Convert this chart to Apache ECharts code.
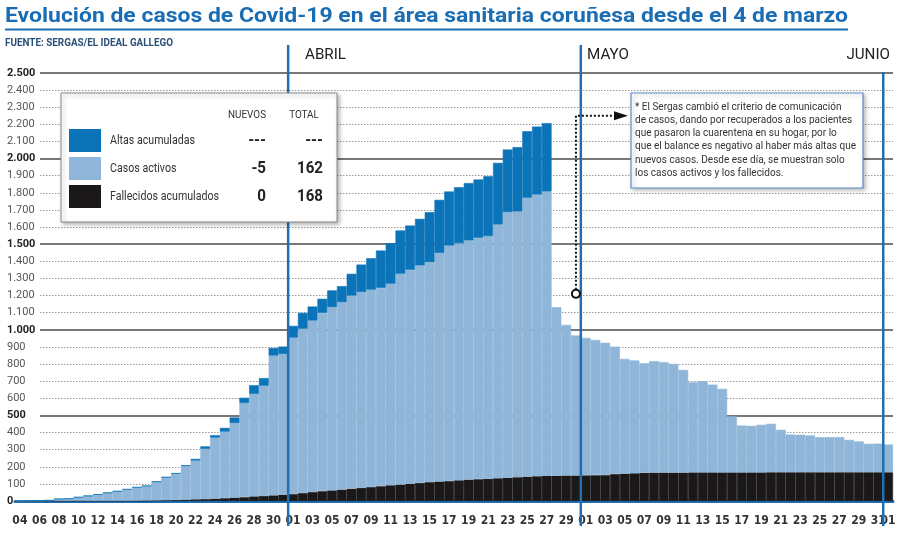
<!DOCTYPE html>
<html><head><meta charset="utf-8">
<script src="https://cdn.jsdelivr.net/npm/echarts/dist/echarts.min.js"></script>
<style>html,body{margin:0;padding:0;background:#fff}#c{width:900px;height:533px}</style>
</head><body><div id="c"></div>
<script>
const categories = [
 '04/03','05/03','06/03','07/03','08/03','09/03','10/03','11/03','12/03','13/03','14/03','15/03','16/03','17/03',
 '18/03','19/03','20/03','21/03','22/03','23/03','24/03','25/03','26/03','27/03','28/03','29/03','30/03','31/03',
 '01/04','02/04','03/04','04/04','05/04','06/04','07/04','08/04','09/04','10/04','11/04','12/04','13/04','14/04','15/04',
 '16/04','17/04','18/04','19/04','20/04','21/04','22/04','23/04','24/04','25/04','26/04','27/04','28/04','29/04','30/04',
 '01/05','02/05','03/05','04/05','05/05','06/05','07/05','08/05','09/05','10/05','11/05','12/05','13/05','14/05','15/05','16/05',
 '17/05','18/05','19/05','20/05','21/05','22/05','23/05','24/05','25/05','26/05','27/05','28/05','29/05','30/05','31/05',
 '01/06'
];
const fallecidos = [
 0,0,0,0,0,0,0,0,0,0,0,0,1,2,3,4,6,8,10,12,14,17,20,23,27,30,33,37,
 41,47,53,58,62,67,72,77,82,87,92,96,101,106,111,114,117,121,125,128,130,133,136,139,142,145,148,148,149,149,
 150,151,152,158,160,162,165,166,166,166,166,167,167,167,167,167,167,167,167,168,168,168,168,168,168,168,168,168,168,168,168,
 168
];
const activos = [
 1,2,3,4,12,14,22,30,38,48,57,68,79,86,110,135,155,195,226,292,356,388,435,549,598,643,816,821,
 913,959,1001,1041,1070,1094,1128,1143,1152,1158,1177,1231,1249,1270,1284,1334,1375,1385,1397,1409,1417,1482,1551,1552,1629,1645,1660,984,880,818,
 803,790,772,744,670,659,640,651,645,635,600,527,533,513,488,327,274,272,278,283,248,220,219,215,205,205,205,189,180,166,167,
 162
];
const altas = [
 0,0,0,0,0,0,0,0,0,0,0,0,0,0,0,0,0,6,10,15,14,22,33,31,51,45,45,44,
 69,93,82,82,98,94,127,161,184,218,237,253,259,272,292,311,316,327,335,341,350,360,366,376,389,397,399,null,null,null,
 null,null,null,null,null,null,null,null,null,null,null,null,null,null,null,null,null,null,null,null,null,null,null,null,null,null,null,null,null,null,null,
 null
];
const seriesNames = ['Altas acumuladas','Casos activos','Fallecidos acumulados'];
const monthLabels = ['ABRIL','MAYO','JUNIO'];
const note = [
 '* El Sergas cambió el criterio de comunicación',
 'de casos, dando por recuperados a los pacientes',
 'que pasaron la cuarentena en su hogar, por lo',
 'que el balance es negativo al haber más altas que',
 'nuevos casos. Desde ese día, se muestran solo',
 'los casos activos y los fallecidos.'
];

const NARROW = "'Liberation Sans Narrow','DejaVu Sans Condensed',sans-serif";
const C_DARK = '#0b74b8', C_LIGHT = '#8fb6d9', C_BLACK = '#1b1819', C_LINE = '#1f6fb2';

const chart = echarts.init(document.getElementById('c'));
const fmtNum = v => v >= 1000 ? Math.floor(v/1000) + '.' + String(v % 1000).padStart(3,'0') : String(v);
const barStyle = c => ({color: c, borderColor: c, borderWidth: 0.6});
const showDay = v => { const p = v.split('/'); return p[1] === '03' ? (+p[0] % 2 === 0) : (+p[0] % 2 === 1); };

const option = {
  animation: false,
  backgroundColor: '#fff',
  grid: [
    {left: 40, right: 7, top: 73, bottom: 32},
    {left: 15, right: 7, top: 73, bottom: 32}
  ],
  xAxis: [
    {gridIndex: 1, type: 'category', data: categories, boundaryGap: true,
     axisLine: {lineStyle: {color: C_LINE, width: 3}}, axisTick: {show: false},
     axisLabel: {
       interval: 0, hideOverlap: false,
       formatter: v => showDay(v) ? v.slice(0,2) : '', color: '#333', fontFamily: NARROW, fontWeight: 'bold', fontSize: 12, margin: 14
     }, splitLine: {show: false}},
    {gridIndex: 0, type: 'value', show: false, min: 0, max: 1}
  ],
  yAxis: [
    {gridIndex: 0, type: 'value', min: 0, max: 2500, interval: 100,
     axisLine: {show: false}, axisTick: {show: false},
     axisLabel: {align: 'left', margin: 33,
       formatter: v => (v % 500 === 0 ? '{m|' : '{n|') + fmtNum(v) + '}',
       rich: {n: {color: '#555', fontSize: 11, fontFamily: 'Roboto'}, m: {color: '#222', fontSize: 11, fontFamily: 'Roboto', fontWeight: 'bold'}}},
     splitLine: {lineStyle: {type: [1.5, 1.5], width: 1, color: ['rgba(0,0,0,0)', '#9a9a9a', '#9a9a9a', '#9a9a9a', '#9a9a9a']}}},
    {gridIndex: 0, type: 'value', min: 0, max: 2500, interval: 500,
     axisLine: {show: false}, axisTick: {show: false}, axisLabel: {show: false},
     splitLine: {lineStyle: {width: 1.5, color: ['rgba(0,0,0,0)', '#4a4a4a', '#4a4a4a', '#4a4a4a', '#4a4a4a', '#4a4a4a']}}},
    {gridIndex: 1, type: 'value', min: 0, max: 2500, show: false}
  ],
  series: [
    {name: seriesNames[2], type: 'bar', stack: 's', xAxisIndex: 0, yAxisIndex: 2, data: fallecidos, barCategoryGap: '0%', itemStyle: barStyle(C_BLACK)},
    {name: seriesNames[1], type: 'bar', stack: 's', xAxisIndex: 0, yAxisIndex: 2, data: activos, barCategoryGap: '0%', itemStyle: barStyle(C_LIGHT)},
    {name: seriesNames[0], type: 'bar', stack: 's', xAxisIndex: 0, yAxisIndex: 2, data: altas, barCategoryGap: '0%', itemStyle: barStyle(C_DARK)}
  ]
};
chart.setOption(option);

// measurement helper
const cv = document.createElement('canvas').getContext('2d');
function fitScale(text, font, target) { cv.font = font; return target / cv.measureText(text).width; }

const xPix = i => chart.convertToPixel({xAxisIndex: 0}, categories[i]);
const yPix = v => chart.convertToPixel({yAxisIndex: 2}, v);
const bound = i => (xPix(i - 1) + xPix(i)) / 2;
const iApr = categories.indexOf('01/04'), iMay = categories.indexOf('01/05'), iJun = categories.indexOf('01/06');
const xApr = bound(iApr), xMay = bound(iMay), xJun = bound(iJun);

const titleText = 'Evolución de casos de Covid-19 en el área sanitaria coruñesa desde el 4 de marzo';
const titleFont = 'bold 21px Roboto';
const subText = 'FUENTE: SERGAS/EL IDEAL GALLEGO';
const subFont = 'bold 11px Roboto';

const n = activos.length;
const nuevosAct = activos[n-1] - activos[n-2];
const nuevosFal = fallecidos[n-1] - fallecidos[n-2];
const lastAltas = altas[n-1];

function txt(text, x, y, font, sx, fill, align, z) {
  return {type: 'text', x: x, y: y, scaleX: sx, z: z || 31,
    style: {text: text, font: font, fill: fill, align: align || 'left', verticalAlign: 'middle'}};
}

const g = [];
g.push(txt(titleText, 5, 17, titleFont, fitScale(titleText, titleFont, 843), '#1a6db3', 'left', 10));
g.push({type: 'rect', shape: {x: 5, y: 28.5, width: 843, height: 2}, style: {fill: '#1a6db3'}, z: 10});
g.push(txt(subText, 5, 43, subFont, fitScale(subText, subFont, 168), '#2b5078', 'left', 10));

// month lines and labels
[[xApr, 45], [xMay, 45], [xJun, 72]].forEach(([x, y1]) => {
  g.push({type: 'line', shape: {x1: x, y1: y1, x2: x, y2: 526}, style: {stroke: C_LINE, lineWidth: 2.5}, z: 20});
});
const mFont = '14px Roboto', mS = fitScale('ABRIL', mFont, 41);
g.push(txt(monthLabels[0], 305, 55, mFont, mS, '#222', 'left', 10));
g.push(txt(monthLabels[1], 587, 55, mFont, mS, '#222', 'left', 10));
g.push(txt(monthLabels[2], 890, 55, mFont, mS, '#222', 'right', 10));

// legend box
g.push({type: 'rect', shape: {x: 61, y: 93, width: 276, height: 129}, z: 30,
  style: {fill: '#fff', stroke: '#8a8a8a', lineWidth: 1, shadowBlur: 4, shadowOffsetX: 2, shadowOffsetY: 2, shadowColor: 'rgba(0,0,0,0.3)'}});
const hFont = '11px Roboto', hS = fitScale('NUEVOS', hFont, 38);
g.push(txt('NUEVOS', 247, 115, hFont, hS, '#333', 'center'));
g.push(txt('TOTAL', 304, 115, hFont, hS, '#333', 'center'));
const lFont = '13px Roboto', lS = fitScale(seriesNames[2], lFont, 109);
const vFont = 'bold 17px Roboto', vS = fitScale('168', vFont, 26);
const rows = [
  {name: seriesNames[0], color: C_DARK, nuevo: '---', total: lastAltas == null ? '---' : String(lastAltas)},
  {name: seriesNames[1], color: C_LIGHT, nuevo: String(nuevosAct), total: String(activos[n-1])},
  {name: seriesNames[2], color: C_BLACK, nuevo: String(nuevosFal), total: String(fallecidos[n-1])}
];
rows.forEach((r, k) => {
  const y0 = 129 + k * 28;
  g.push({type: 'rect', shape: {x: 69, y: y0, width: 32, height: 23}, style: {fill: r.color}, z: 31});
  g.push(txt(r.name, 110, y0 + 12, lFont, lS, '#333', 'left'));
  g.push(txt(r.nuevo, 266, y0 + 12, vFont, vS, '#222', 'right'));
  g.push(txt(r.total, 323, y0 + 12, vFont, vS, '#222', 'right'));
});

// annotation box
g.push({type: 'rect', shape: {x: 631, y: 93, width: 232, height: 95}, z: 30,
  style: {fill: '#fff', stroke: '#5b8ec4', lineWidth: 1.2, shadowBlur: 4, shadowOffsetX: 2, shadowOffsetY: 2, shadowColor: 'rgba(0,0,0,0.25)'}});
const nFont = '11.5px Roboto', nS = fitScale(note[3], nFont, 221);
note.forEach((t, k) => g.push(txt(t, 635, 106.7 + k * 13.3, nFont, nS, '#333', 'left')));

// pointer from the drop (30/04)
const cx = xPix(categories.indexOf('30/04')), cy = yPix(1210), ya = yPix(2250);
g.push({type: 'polyline', shape: {points: [[cx, cy - 4], [cx, ya], [617, ya]]}, z: 25,
  style: {stroke: '#111', lineWidth: 2, lineDash: [2, 2], fill: null}});
g.push({type: 'polygon', shape: {points: [[614, ya - 4.5], [628, ya], [614, ya + 4.5]]}, style: {fill: '#111'}, z: 25});
g.push({type: 'circle', shape: {cx: cx, cy: cy, r: 4}, style: {fill: '#fff', stroke: '#111', lineWidth: 2}, z: 26});

chart.setOption({graphic: g});
</script></body></html>
